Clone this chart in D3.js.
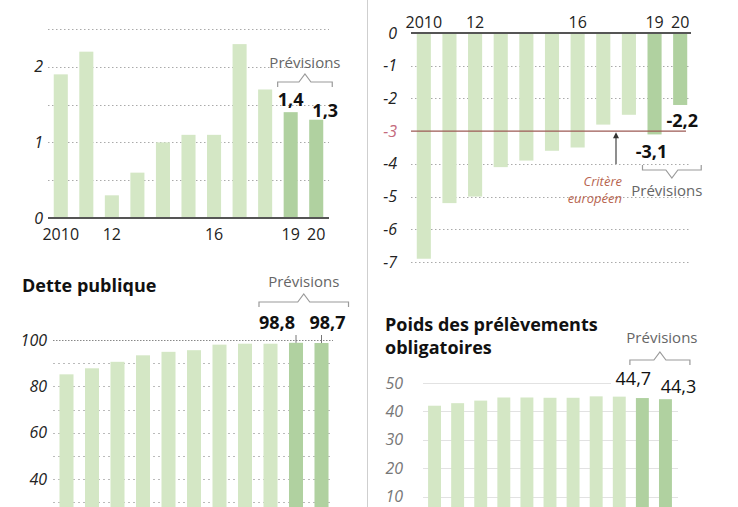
<!DOCTYPE html>
<html>
<head>
<meta charset="utf-8">
<script src="https://cdn.jsdelivr.net/npm/d3@7"></script>
<style>
  body { margin: 0; background: #fff; }
  svg { display: block; font-family: "Open Sans", "Noto Sans", sans-serif; }
</style>
</head>
<body>
<svg id="chart" width="738" height="507"></svg>
<script>
// Data
const years = ['2010', '2011', '2012', '2013', '2014', '2015', '2016', '2017', '2018', '2019', '2020'];
const forecastYears = ['2019', '2020'];
const yearLabels = { '2010': '2010', '2012': '12', '2016': '16', '2019': '19', '2020': '20' };

const croissance = [1.9, 2.2, 0.3, 0.6, 1.0, 1.1, 1.1, 2.3, 1.7, 1.4, 1.3];
const deficit = [-6.9, -5.2, -5.0, -4.1, -3.9, -3.6, -3.5, -2.8, -2.5, -3.1, -2.2];
const dette = [85.2, 87.8, 90.6, 93.4, 94.9, 95.6, 98.0, 98.4, 98.4, 98.8, 98.7];
const prelevements = [42.0, 42.9, 43.8, 44.9, 44.9, 44.8, 44.8, 45.3, 45.2, 44.7, 44.3];

const critereEuropeen = -3;

const LIGHT = '#d4e7c5';
const DARK = '#b0d1a0';
const fmt = v => String(v).replace('.', ',');

const svg = d3.select('#chart');

// divider between the two columns
svg.append('line')
    .attr('x1', 367.5).attr('x2', 367.5)
    .attr('y1', 0).attr('y2', 507)
    .attr('stroke', '#cfcfcf').attr('stroke-width', 1);

function makeX(range) {
    return d3.scaleBand().domain(years).range(range)
        .paddingInner(0.45).paddingOuter(0.225);
}

function drawBars(g, x, y, values, y0) {
    g.selectAll('rect.bar')
        .data(years.map((yr, i) => ({ year: yr, value: values[i] })))
        .join('rect')
        .attr('class', 'bar')
        .attr('x', d => x(d.year))
        .attr('width', x.bandwidth())
        .attr('y', d => Math.min(y(d.value), y(y0)))
        .attr('height', d => Math.abs(y(d.value) - y(y0)))
        .attr('fill', d => forecastYears.includes(d.year) ? DARK : LIGHT);
}

function grid(g, x0, x1, y, ticks, opts) {
    g.selectAll(null)
        .data(ticks)
        .join('line')
        .attr('x1', x0).attr('x2', x1)
        .attr('y1', d => Math.round(y(d)) + 0.5).attr('y2', d => Math.round(y(d)) + 0.5)
        .attr('stroke', opts.color || '#bbb')
        .attr('stroke-width', 1)
        .attr('stroke-dasharray', opts.dash || null);
}

function tickLabels(g, xPos, y, ticks, opts) {
    g.selectAll(null)
        .data(ticks)
        .join('text')
        .attr('x', xPos)
        .attr('y', d => y(d))
        .attr('dy', '0.35em')
        .attr('text-anchor', 'end')
        .style('font-size', (opts.size || 16) + 'px')
        .style('font-style', 'italic')
        .attr('fill', d => (opts.colorFn ? opts.colorFn(d) : (opts.color || '#222')))
        .text(d => fmt(d));
}

// curly bracket over (or under) the two forecast bars
function bracket(g, x, yLine, dir, padL, padR) {
    const x1 = x('2019') - padL;
    const x2 = x('2020') + x.bandwidth() + padR;
    const xm = (x1 + x2) / 2;
    const e = 5 * -dir;
    const p = 8 * dir;
    g.append('path')
        .attr('d', `M${x1},${yLine + e}V${yLine}H${xm - 6}L${xm},${yLine + p}L${xm + 6},${yLine}H${x2}V${yLine + e}`)
        .attr('fill', 'none')
        .attr('stroke', '#9a9a9a')
        .attr('stroke-width', 1.2);
    return xm;
}

function previsions(g, xc, yText) {
    g.append('text')
        .attr('x', xc).attr('y', yText)
        .attr('text-anchor', 'middle')
        .style('font-size', '15px')
        .attr('fill', '#666')
        .text('Prévisions');
}

function yearAxis(g, x, yText) {
    g.selectAll(null)
        .data(years.filter(d => yearLabels[d]))
        .join('text')
        .attr('x', d => x(d) + x.bandwidth() / 2)
        .attr('y', yText)
        .attr('text-anchor', 'middle')
        .style('font-size', '16px')
        .attr('fill', '#222')
        .text(d => yearLabels[d]);
}

function valueLabel(g, xPos, yPos, text, bold) {
    g.append('text')
        .attr('x', xPos).attr('y', yPos)
        .attr('text-anchor', 'middle')
        .style('font-size', '18px')
        .style('font-weight', bold ? 'bold' : 'normal')
        .attr('fill', '#111')
        .text(text);
}

function title(g, xPos, yPos, lines) {
    lines.forEach((line, i) => {
        g.append('text')
            .attr('x', xPos).attr('y', yPos + i * 22.5)
            .style('font-size', '18px').style('font-weight', 'bold')
            .attr('fill', '#111')
            .text(line);
    });
}

// ---------- Panel 1 : croissance ----------
{
    const g = svg.append('g');
    const x = makeX([48, 329]);
    const y = d3.scaleLinear().domain([0, 2.5]).range([218, 29]);
    grid(g, 48, 329, y, d3.range(0.5, 2.51, 0.5), { dash: '1.5,2.5', color: '#aaa' });
    drawBars(g, x, y, croissance, 0);
    g.append('line')
        .attr('x1', 48).attr('x2', 329)
        .attr('y1', y(0)).attr('y2', y(0))
        .attr('stroke', '#555').attr('stroke-width', 2);
    tickLabels(g, 43, y, [0, 1, 2], { size: 16 });
    yearAxis(g, x, 240);

    const xm = bracket(g, x, 82, -1, 6, 9);
    previsions(g, xm, 68);
    const v19 = croissance[years.indexOf('2019')];
    const v20 = croissance[years.indexOf('2020')];
    valueLabel(g, x('2019') + x.bandwidth() / 2, y(v19) - 6, fmt(v19), true);
    valueLabel(g, x('2020') + x.bandwidth() / 2 + 9, y(v20) - 3, fmt(v20), true);
}

// ---------- Panel 2 : deficit ----------
{
    const g = svg.append('g');
    const x = makeX([411, 693]);
    const y = d3.scaleLinear().domain([0, -7]).range([33, 262]);
    grid(g, 411, 691, y, d3.range(-1, -7.01, -1).filter(d => d !== critereEuropeen), { dash: '1.5,2.5', color: '#aaa' });
    drawBars(g, x, y, deficit, 0);
    g.append('line')
        .attr('x1', 411).attr('x2', 691)
        .attr('y1', y(0)).attr('y2', y(0))
        .attr('stroke', '#555').attr('stroke-width', 2);
    g.append('line')
        .attr('x1', 411).attr('x2', 686)
        .attr('y1', y(critereEuropeen)).attr('y2', y(critereEuropeen))
        .attr('stroke', '#9c5a55').attr('stroke-width', 1.3);
    tickLabels(g, 397, y, d3.range(0, -7.01, -1), {
        size: 16,
        colorFn: d => d === critereEuropeen ? '#c46a7c' : '#222'
    });
    yearAxis(g, x, 28);

    // arrow pointing to the -3 line
    const xa = 616;
    const ya = y(critereEuropeen);
    g.append('line')
        .attr('x1', xa).attr('x2', xa)
        .attr('y1', 164).attr('y2', ya + 6)
        .attr('stroke', '#444').attr('stroke-width', 1.2);
    g.append('path')
        .attr('d', `M${xa - 3},${ya + 7}L${xa},${ya + 1}L${xa + 3},${ya + 7}Z`)
        .attr('fill', '#333');
    ['Critère', 'européen'].forEach((w, i) => {
        g.append('text')
            .attr('x', 622).attr('y', 186 + i * 17)
            .attr('text-anchor', 'end')
            .style('font-size', '13px').style('font-style', 'italic')
            .attr('fill', '#b8654f')
            .text(w);
    });

    const xm = bracket(g, x, 170, 1, 5, 14);
    previsions(g, xm - 5, 196);

    const v19 = deficit[years.indexOf('2019')];
    const v20 = deficit[years.indexOf('2020')];
    valueLabel(g, x('2019') + x.bandwidth() / 2 - 3, y(v19) + 24, fmt(v19), true);
    valueLabel(g, x('2020') + x.bandwidth() / 2 + 2, y(v20) + 22, fmt(v20), true);
}

// ---------- Panel 3 : dette publique ----------
{
    const g = svg.append('g');
    const x = makeX([53.75, 334.25]);
    const y = d3.scaleLinear().domain([0, 100]).range([572, 340]);
    grid(g, 53, 333, y, d3.range(30, 91, 10), { dash: '2,3', color: '#bbb' });
    grid(g, 53, 333, y, [100], { dash: '1.5,1.5', color: '#888' });
    drawBars(g, x, y, dette, 0);
    tickLabels(g, 47, y, [40, 60, 80, 100], { size: 16 });

    title(g, 22, 292, ['Dette publique']);

    const xm = bracket(g, x, 302, -1, 30, 20);
    previsions(g, xm, 287);
    forecastYears.forEach((yr, i) => {
        const v = dette[years.indexOf(yr)];
        const cx = x(yr) + x.bandwidth() / 2;
        g.append('line')
            .attr('x1', cx).attr('x2', cx)
            .attr('y1', 335).attr('y2', y(v))
            .attr('stroke', '#777').attr('stroke-width', 1);
        valueLabel(g, cx + (i === 0 ? -19 : 6), 329, fmt(v), true);
    });
}

// ---------- Panel 4 : prelevements obligatoires ----------
{
    const g = svg.append('g');
    const x = d3.scaleBand().domain(years).range([423, 677])
        .paddingInner(0.44).paddingOuter(0.22);
    const y = d3.scaleLinear().domain([0, 50]).range([525, 383]);
    grid(g, 423, 678, y, [10, 20, 30, 40], { color: '#e2e2e2' });
    grid(g, 423, 611, y, [50], { color: '#e2e2e2' });
    drawBars(g, x, y, prelevements, 0);
    tickLabels(g, 403, y, [10, 20, 30, 40, 50], { size: 16, color: '#777' });

    title(g, 385, 331, ['Poids des prélèvements', 'obligatoires']);

    const xm = bracket(g, x, 360, -1, 6, 18);
    previsions(g, xm + 2, 343);
    const v19 = prelevements[years.indexOf('2019')];
    const v20 = prelevements[years.indexOf('2020')];
    valueLabel(g, x('2019') + x.bandwidth() / 2 - 9, 385, fmt(v19), false);
    valueLabel(g, x('2020') + x.bandwidth() / 2 + 13, 393, fmt(v20), false);
}
</script>
</body>
</html>
